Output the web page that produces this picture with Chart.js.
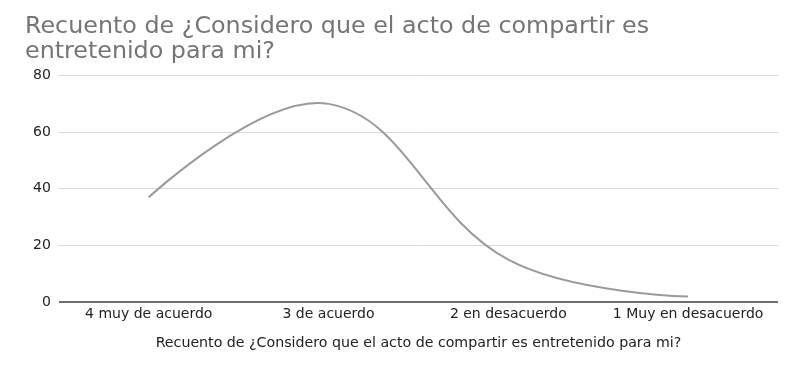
<!DOCTYPE html>
<html>
<head>
<meta charset="utf-8">
<script src="https://cdn.jsdelivr.net/npm/chart.js@4"></script>
<style>
  html, body { margin: 0; padding: 0; background: #fff; }
  #wrap { width: 801px; height: 368px; }
</style>
</head>
<body>
<div id="wrap"><canvas id="chart" width="801" height="368"></canvas></div>
<script>
// data
const categories = ['4 muy de acuerdo', '3 de acuerdo', '2 en desacuerdo', '1 Muy en desacuerdo'];
const counts = [37, 70, 15, 2];
const yTicks = [0, 20, 40, 60, 80];
const titleLines = ['Recuento de ¿Considero que el acto de compartir es', 'entretenido para mi?'];
const xTitle = 'Recuento de ¿Considero que el acto de compartir es entretenido para mi?';

const FONT = 'DejaVu Sans, Liberation Sans, sans-serif';

// the sheet-style curve starts and ends with its handle on the end point itself
const flatEnds = {
    id: 'flatEnds',
    beforeDatasetDraw(chart, args) {
        const line = args.meta.dataset;
        const pts = args.meta.data;
        if (!line || pts.length < 2) return;
        line.updateControlPoints(chart.chartArea);
        const first = pts[0], last = pts[pts.length - 1];
        first.cp2x = first.x; first.cp2y = first.y;
        last.cp1x = last.x; last.cp1y = last.y;
    }
};

const ctx = document.getElementById('chart').getContext('2d');
new Chart(ctx, {
    type: 'line',
    data: {
        labels: categories,
        datasets: [{
            data: counts,
            borderColor: '#9a9a9a',
            borderWidth: 2,
            tension: 0.4,
            pointRadius: 0,
            fill: false
        }]
    },
    plugins: [flatEnds],
    options: {
        responsive: false,
        animation: false,
        layout: { padding: { left: 25, right: 23, top: 15, bottom: 16 } },
        plugins: {
            legend: { display: false },
            tooltip: { enabled: false },
            title: {
                display: true,
                text: titleLines,
                align: 'start',
                color: '#757575',
                font: { family: FONT, size: 23.8, weight: 'normal', lineHeight: 1.02 },
                padding: { top: 0, bottom: 12 }
            }
        },
        scales: {
            x: {
                offset: true,
                grid: { display: false, drawTicks: false },
                border: { display: false },
                ticks: {
                    color: '#222',
                    font: { family: FONT, size: 14 },
                    maxRotation: 0,
                    padding: 4
                },
                title: {
                    display: true,
                    text: xTitle,
                    color: '#222',
                    font: { family: FONT, size: 14.2 },
                    padding: { top: 8, bottom: 0 }
                }
            },
            y: {
                min: yTicks[0],
                max: yTicks[yTicks.length - 1],
                afterBuildTicks: axis => { axis.ticks = yTicks.map(v => ({ value: v })); },
                border: { display: false },
                grid: {
                    drawTicks: false,
                    color: c => c.tick && c.tick.value === 0 ? '#6e6e6e' : '#d9d9d9',
                    lineWidth: c => c.tick && c.tick.value === 0 ? 2 : 1
                },
                ticks: {
                    color: '#222',
                    font: { family: FONT, size: 14 },
                    padding: 8
                }
            }
        }
    }
});
</script>
</body>
</html>
